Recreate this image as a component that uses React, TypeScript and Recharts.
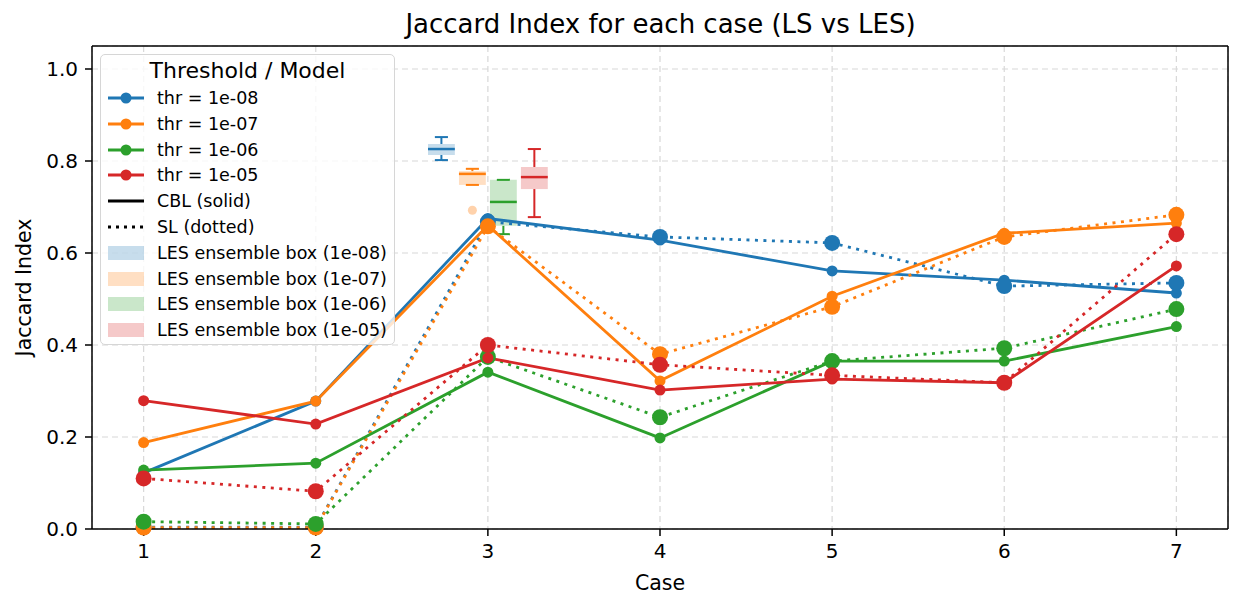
import React from 'react';
import {
  ComposedChart,
  Line,
  XAxis,
  YAxis,
  CartesianGrid,
  ReferenceArea,
  ReferenceLine,
  ReferenceDot,
} from 'recharts';

// cases on the x axis
const cases = [1, 2, 3, 4, 5, 6, 7];
const thresholds = ['1e-08', '1e-07', '1e-06', '1e-05'];
const colors = ['#1f77b4', '#ff7f0e', '#2ca02c', '#d62728'];

// CBL model (solid lines)
const cbl08 = [0.122, 0.278, 0.675, 0.628, 0.561, 0.541, 0.513];
const cbl07 = [0.188, 0.278, 0.66, 0.322, 0.506, 0.643, 0.665];
const cbl06 = [0.128, 0.143, 0.341, 0.198, 0.365, 0.365, 0.44];
const cbl05 = [0.279, 0.228, 0.372, 0.302, 0.326, 0.318, 0.572];

// SL model (dotted lines)
const sl08 = [0.004, 0.004, 0.668, 0.635, 0.622, 0.528, 0.535];
const sl07 = [0.003, 0.003, 0.658, 0.38, 0.483, 0.635, 0.683];
const sl06 = [0.016, 0.011, 0.374, 0.243, 0.365, 0.393, 0.478];
const sl05 = [0.11, 0.082, 0.4, 0.357, 0.334, 0.318, 0.641];

// LES ensemble boxes (drawn next to case 3)
const boxCase = 3;
const boxLow = [0.802, 0.748, 0.641, 0.678];
const boxQ1 = [0.813, 0.748, 0.659, 0.739];
const boxMedian = [0.826, 0.772, 0.711, 0.765];
const boxQ3 = [0.837, 0.778, 0.759, 0.787];
const boxHigh = [0.852, 0.783, 0.759, 0.826];
const boxOutliers = [[], [0.693], [], []];

const xTicks = [1, 2, 3, 4, 5, 6, 7];
const yTicks = [0, 0.2, 0.4, 0.6, 0.8, 1.0];

const cblSeries = [cbl08, cbl07, cbl06, cbl05];
const slSeries = [sl08, sl07, sl06, sl05];

const data = cases.map((c, i) => {
  const row: any = { case: c };
  thresholds.forEach((_, k) => {
    row['cbl' + k] = cblSeries[k][i];
    row['sl' + k] = slSeries[k][i];
  });
  return row;
});

const FONT = '"DejaVu Sans", sans-serif';
const boxOffsets = [-0.27, -0.09, 0.09, 0.27];
const boxHalf = 0.078;
const capHalf = 0.038;

function LegendBox() {
  const rowH = 25.8;
  const items: any[] = [];
  thresholds.forEach((t, k) => items.push({ kind: 'thr', color: colors[k], label: `thr = ${t}` }));
  items.push({ kind: 'solid', color: '#000', label: 'CBL (solid)' });
  items.push({ kind: 'dotted', color: '#000', label: 'SL (dotted)' });
  thresholds.forEach((t, k) => items.push({ kind: 'box', color: colors[k], label: `LES ensemble box (${t})` }));

  return (
    <div
      style={{
        position: 'absolute',
        left: 100,
        top: 54,
        width: 295,
        height: 291,
        border: '1.5px solid #d6d6d6',
        borderRadius: 5,
        background: 'rgba(255,255,255,0.8)',
        fontFamily: FONT,
        boxSizing: 'border-box',
      }}
    >
      <div style={{ position: 'absolute', top: 2, width: '100%', textAlign: 'center', fontSize: 22, lineHeight: '28px' }}>
        Threshold / Model
      </div>
      {items.map((it, i) => {
        const cy = 43 + i * rowH;
        return (
          <div key={i} style={{ position: 'absolute', left: 6, top: cy - 11, height: 22, display: 'flex', alignItems: 'center' }}>
            <svg width={38} height={20}>
              {it.kind === 'box' ? (
                <rect x={1} y={3} width={36} height={14} fill={it.color} fillOpacity={0.25} />
              ) : (
                <line
                  x1={1}
                  x2={37}
                  y1={10}
                  y2={10}
                  stroke={it.color}
                  strokeWidth={2.8}
                  strokeDasharray={it.kind === 'dotted' ? '3 5' : undefined}
                />
              )}
              {it.kind === 'thr' && <circle cx={19} cy={10} r={5.5} fill={it.color} />}
            </svg>
            <span style={{ marginLeft: 12, fontSize: 17.5, whiteSpace: 'nowrap' }}>{it.label}</span>
          </div>
        );
      })}
    </div>
  );
}

export default function App() {
  return (
    <div style={{ position: 'absolute', left: 0, top: 0, width: 1233, height: 597, background: '#fff' }}>
      <div
        style={{
          position: 'absolute',
          left: 0,
          width: 1233,
          top: 8,
          paddingLeft: 88,
          boxSizing: 'border-box',
          textAlign: 'center',
          fontFamily: FONT,
          fontSize: 26,
          lineHeight: '32px',
        }}
      >
        Jaccard Index for each case (LS vs LES)
      </div>
      <ComposedChart width={1233} height={597} data={data} margin={{ top: 46, right: 5, bottom: 0, left: 0 }}>
        <CartesianGrid stroke="#d8d8d8" strokeDasharray="6 4" strokeWidth={1.2} />
        <XAxis
          dataKey="case"
          type="number"
          domain={[0.7, 7.3]}
          ticks={xTicks}
          height={68}
          stroke="#000"
          strokeWidth={1.5}
          tickSize={7}
          tickMargin={8}
          tick={{ fill: '#000', fontSize: 20, fontFamily: FONT }}
          label={{ value: 'Case', position: 'insideBottom', offset: 7, style: { fill: '#000', fontSize: 20.5, fontFamily: FONT } }}
        />
        <YAxis
          type="number"
          domain={[0, 1.05]}
          ticks={yTicks}
          width={92}
          stroke="#000"
          strokeWidth={1.5}
          tickSize={7}
          tickMargin={7}
          tickFormatter={(v: number) => v.toFixed(1)}
          tick={{ fill: '#000', fontSize: 20, fontFamily: FONT }}
          label={{
            value: 'Jaccard Index',
            angle: -90,
            position: 'insideLeft',
            offset: 24,
            style: { fill: '#000', fontSize: 20.5, fontFamily: FONT, textAnchor: 'middle' },
          }}
        />
        <ReferenceLine y={1.05} stroke="#000" strokeWidth={1.5} ifOverflow="visible" />
        <ReferenceLine x={7.3} stroke="#000" strokeWidth={1.5} ifOverflow="visible" />

        {thresholds.map((_, k) => {
          const cx = boxCase + boxOffsets[k];
          const c = colors[k];
          return (
            <React.Fragment key={'box' + k}>
              <ReferenceArea
                x1={cx - boxHalf}
                x2={cx + boxHalf}
                y1={boxQ1[k]}
                y2={boxQ3[k]}
                fill={c}
                fillOpacity={0.25}
                stroke="none"
                ifOverflow="visible"
              />
              <ReferenceLine segment={[{ x: cx, y: boxQ3[k] }, { x: cx, y: boxHigh[k] }]} stroke={c} strokeWidth={2} ifOverflow="visible" />
              <ReferenceLine segment={[{ x: cx, y: boxQ1[k] }, { x: cx, y: boxLow[k] }]} stroke={c} strokeWidth={2} ifOverflow="visible" />
              <ReferenceLine segment={[{ x: cx - capHalf, y: boxHigh[k] }, { x: cx + capHalf, y: boxHigh[k] }]} stroke={c} strokeWidth={2} ifOverflow="visible" />
              <ReferenceLine segment={[{ x: cx - capHalf, y: boxLow[k] }, { x: cx + capHalf, y: boxLow[k] }]} stroke={c} strokeWidth={2} ifOverflow="visible" />
              <ReferenceLine segment={[{ x: cx - boxHalf, y: boxMedian[k] }, { x: cx + boxHalf, y: boxMedian[k] }]} stroke={c} strokeWidth={2.5} ifOverflow="visible" />
              {boxOutliers[k].map((v, j) => (
                <ReferenceDot key={j} x={cx} y={v} r={4.5} fill={c} fillOpacity={0.35} stroke="none" ifOverflow="visible" />
              ))}
            </React.Fragment>
          );
        })}

        {thresholds.map((_, k) => [
          <Line
            key={'cbl' + k}
            dataKey={'cbl' + k}
            stroke={colors[k]}
            strokeWidth={2.8}
            dot={{ r: 5.5, fill: colors[k], stroke: 'none' }}
            activeDot={false}
            isAnimationActive={false}
          />,
          <Line
            key={'sl' + k}
            dataKey={'sl' + k}
            stroke={colors[k]}
            strokeWidth={2.8}
            strokeDasharray="3 5.5"
            dot={{ r: 8, fill: colors[k], stroke: 'none', strokeDasharray: '' }}
            activeDot={false}
            isAnimationActive={false}
          />,
        ])}
      </ComposedChart>
      <LegendBox />
    </div>
  );
}
